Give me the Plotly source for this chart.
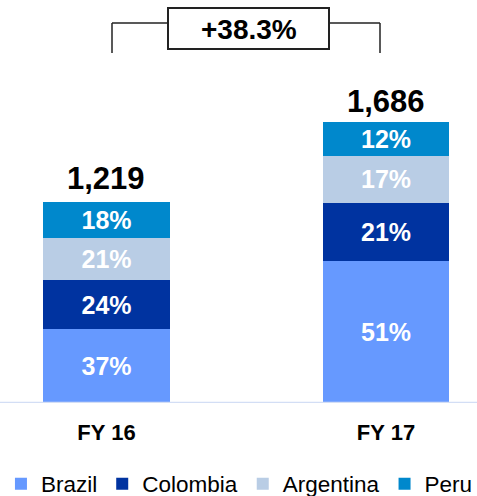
import plotly.graph_objects as go

# ---- data ----
years = ["FY 16", "FY 17"]
totals = [1219, 1686]
countries = ["Brazil", "Colombia", "Argentina", "Peru"]
share_brazil = [37, 51]
share_colombia = [24, 21]
share_argentina = [21, 17]
share_peru = [18, 12]
growth_label = "+38.3%"
total_labels = ["1,219", "1,686"]

colors = {"Brazil": "#6699FF", "Colombia": "#0033A0",
          "Argentina": "#B9CDE5", "Peru": "#0088CC"}
shares = {"Brazil": share_brazil, "Colombia": share_colombia,
          "Argentina": share_argentina, "Peru": share_peru}

FONT = "Liberation Sans, Arial, sans-serif"

fig = go.Figure()
for c in countries:
    vals = [t * s / 100 for t, s in zip(totals, shares[c])]
    fig.add_trace(go.Bar(
        x=[0, 1], y=vals, name=c,
        marker=dict(color=colors[c], line=dict(width=0)),
        width=0.454,
        text=[f"{s}%" for s in shares[c]],
        textposition="inside", insidetextanchor="middle",
        textfont=dict(family=FONT, size=25, color="white", weight="bold"),
        hoverinfo="skip",
    ))

# totals above bars
for i, (t, lab) in enumerate(zip(totals, total_labels)):
    fig.add_annotation(x=i, y=t, text=lab, showarrow=False, xref="x", yref="y",
                       yanchor="bottom", yshift=4,
                       font=dict(family=FONT, size=31, color="black", weight="bold"))

W, H_PLOT = 477, 403
def px(x):
    return x / W
def py(y):
    return (H_PLOT - y) / H_PLOT

line = dict(color="#222222", width=1.5)
# bracket
fig.add_shape(type="line", xref="paper", yref="paper", x0=px(112), x1=px(112), y0=py(23), y1=py(53), line=line)
fig.add_shape(type="line", xref="paper", yref="paper", x0=px(112), x1=px(168), y0=py(23), y1=py(23), line=line)
fig.add_shape(type="line", xref="paper", yref="paper", x0=px(380), x1=px(380), y0=py(23), y1=py(53), line=line)
fig.add_shape(type="line", xref="paper", yref="paper", x0=px(329), x1=px(380), y0=py(23), y1=py(23), line=line)
fig.add_shape(type="rect", xref="paper", yref="paper", x0=px(168), x1=px(329), y0=py(49), y1=py(8),
              line=dict(color="#222222", width=2), fillcolor="white")
fig.add_annotation(xref="paper", yref="paper", x=px(248.5), y=py(29.5), text=growth_label,
                   showarrow=False, yanchor="middle", xanchor="center",
                   font=dict(family=FONT, size=28, color="black", weight="bold"))

# baseline
fig.add_shape(type="line", xref="paper", yref="y", x0=0, x1=1, y0=0, y1=0,
              line=dict(color="#D3DEF5", width=2.5), layer="above")

fig.update_layout(
    width=477, height=496,
    margin=dict(l=0, r=0, t=0, b=93, autoexpand=False),
    barmode="stack", bargap=0,
    plot_bgcolor="white", paper_bgcolor="white",
    showlegend=True,
    legend=dict(orientation="h", x=0.002, xanchor="left", y=-0.201, yanchor="middle",
                font=dict(family=FONT, size=22.5, color="black"),
                traceorder="normal", itemclick=False),
    uniformtext=dict(minsize=25, mode="show"),
    xaxis=dict(range=[-0.381, 1.3256], tickvals=[0, 1], ticktext=years,
               showgrid=False, zeroline=False, showline=False, ticks="",
               ticklabelstandoff=14,
               tickfont=dict(family=FONT, size=22, color="black", weight="bold")),
    yaxis=dict(range=[0, 2444], visible=False, showgrid=False, zeroline=False),
)

fig.write_html("out.html", config={"displayModeBar": False, "staticPlot": True},
               post_script="document.body.style.margin='0';document.body.style.overflow='hidden';")
